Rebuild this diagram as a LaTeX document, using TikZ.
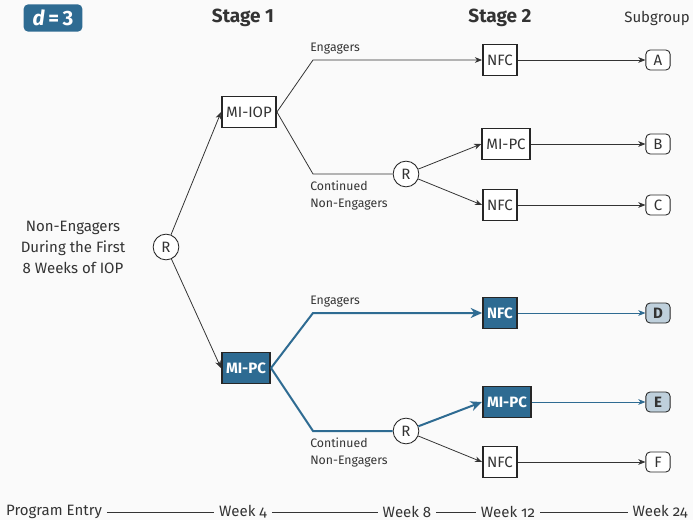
\documentclass[tikz,border=0pt]{standalone}
\usepackage{fontspec}
\setmainfont{Fira Sans}[Numbers=OldStyle]
\newfontfamily\headfont{Fira Sans}[Numbers=Lining]
\usepackage{tikz}
\usetikzlibrary{arrows.meta}
\definecolor{stageblue}{HTML}{2E6B92}
\definecolor{subblue}{HTML}{BFD0DC}
\definecolor{inkgray}{HTML}{333333}
\definecolor{paper}{HTML}{FAFAFA}

\begin{document}
\begin{tikzpicture}[x=0.7pt, y=-0.7pt, font=\fontsize{10.5}{14.7}\selectfont, text=inkgray,
  box/.style={draw=black!85, line width=1.1pt, fill=white, minimum height=21.5pt, inner xsep=3pt},
  bluebox/.style={fill=stageblue, text=white},
  rnode/.style={circle, draw=black!85, line width=0.6pt, fill=white, minimum size=18pt, inner sep=0pt},
  grp/.style={draw=black!85, line width=0.6pt, rounded corners=3pt, fill=white, minimum width=17pt, minimum height=14pt, inner sep=1pt},
  bluegrp/.style={fill=subblue, font=\fontsize{10.5}{14.7}\selectfont\bfseries},
  lbl/.style={font=\fontsize{8.6}{11.9}\selectfont, inner sep=0pt},
  stagehead/.style={font=\fontsize{13.3}{15}\selectfont\headfont\bfseries},
  line/.style={draw=inkgray, line width=0.55pt},
  arm/.style={line, -{Stealth[length=5pt, width=4pt, inset=1.5pt]}},
  blueline/.style={draw=stageblue, line width=1.4pt},
  bluearm/.style={blueline, -{Stealth[length=8pt, width=7pt, inset=2.5pt]}},
  thinblue/.style={draw=stageblue, line width=0.55pt, -{Stealth[length=5pt, width=4pt, inset=1.5pt]}}]
\fill[paper] (0,0) rectangle (693,520);
\useasboundingbox (0,0) rectangle (693,520);

% headings
\node[fill=stageblue, text=white, rounded corners=3pt, minimum width=41pt, minimum height=19pt, inner sep=1pt,
  font=\fontsize{14.5}{16}\selectfont\headfont\bfseries] (dval) at (53,18) {\textit{d}\,=\,3};
\node[stagehead] (st1) at (243,18) {Stage 1};
\node[stagehead] (st2) at (500,18) {Stage 2};
\node (subg) at (657,18) {Subgroup};

% stage 1
\node[align=center] (pop) at (73,247) {Non-Engagers\\During the First\\8 Weeks of IOP};
\node[rnode] (r1) at (166,247) {R};
\node[box] (mio) at (249,112) {MI-IOP};
\node[box, bluebox] (mpc) at (246,368) {\bfseries MI-PC};

% stage 2
\node[box] (nfca) at (500,60) {NFC};
\node[box] (mpcb) at (506,144) {MI-PC};
\node[box] (nfcc) at (500,205) {NFC};
\node[box, bluebox] (nfcd) at (500,313) {\bfseries NFC};
\node[box, bluebox] (mpce) at (507,402) {\bfseries MI-PC};
\node[box] (nfcf) at (500,462) {NFC};
\node[rnode] (r2) at (406,174) {R};
\node[rnode] (r3) at (406,431) {R};

% subgroups
\node[grp] (ga) at (658,60) {A};
\node[grp] (gb) at (658,144) {B};
\node[grp] (gc) at (658,205) {C};
\node[grp, bluegrp] (gd) at (658,313) {D};
\node[grp, bluegrp] (ge) at (658,402) {E};
\node[grp] (gf) at (658,462) {F};

% bends and branch labels
\coordinate (ka) at (313,60);
\coordinate (kb) at (313,174);
\coordinate (kd) at (313,313);
\coordinate (ke) at (313,431);
\node[lbl, anchor=base west] (la) at (310,51) {Engagers};
\node[lbl, anchor=north west, align=left] (lb) at (310,181) {Continued\\Non-Engagers};
\node[lbl, anchor=base west] (ld) at (310,304) {Engagers};
\node[lbl, anchor=north west, align=left] (le) at (310,438) {Continued\\Non-Engagers};

\draw[arm] (r1) -- (mio.west);
\draw[arm] (r1) -- (mpc.west);
\draw[arm] (mio.east) -- (ka) -- (nfca);
\draw[line] (mio.east) -- (kb) -- (r2);
\draw[arm] (r2) -- (mpcb.west);
\draw[arm] (r2) -- (nfcc.west);
\draw[bluearm] (mpc.east) -- (kd) -- (nfcd);
\draw[blueline] (mpc.east) -- (ke) -- (r3);
\draw[bluearm] (r3) -- (mpce.west);
\draw[arm] (r3) -- (nfcf.west);

\draw[arm] (nfca) -- (ga);
\draw[arm] (mpcb) -- (gb);
\draw[arm] (nfcc) -- (gc);
\draw[thinblue] (nfcd) -- (gd);
\draw[thinblue] (mpce) -- (ge);
\draw[arm] (nfcf) -- (gf);

% timeline
\node (t0) at (54,512) {Program Entry};
\node (t1) at (243,512) {Week 4};
\node (t2) at (407,512) {Week 8};
\node (t3) at (508,512) {Week 12};
\node (t4) at (660,512) {Week 24};
\draw[line] (t0) -- (t1) -- (t2) -- (t3) -- (t4);
\end{tikzpicture}
\end{document}
